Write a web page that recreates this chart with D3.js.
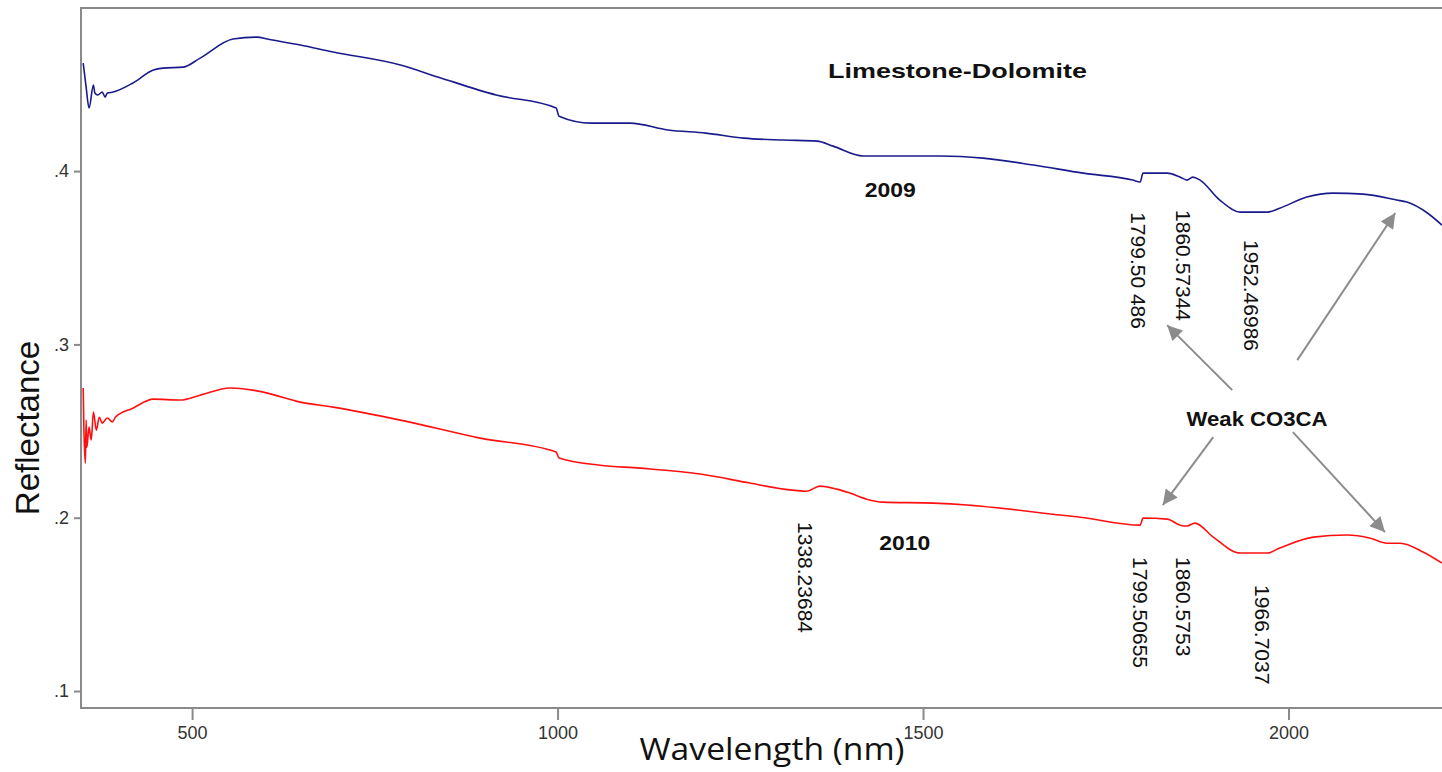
<!DOCTYPE html>
<html>
<head>
<meta charset="utf-8">
<script src="https://cdn.jsdelivr.net/npm/d3@7"></script>
<style>
  body { margin: 0; background: #fff; }
  text { font-family: "Liberation Sans", Arial, sans-serif; }
</style>
</head>
<body>
<div id="chart"></div>
<script>
// spectra
const wave2009 = [351, 355, 359, 365, 367, 371, 377, 381, 384, 392, 419, 447, 460, 488, 511, 556, 589, 603, 648, 693,
  785, 837, 916, 998, 1002, 1046, 1099, 1151, 1203, 1255, 1309, 1355, 1377, 1418, 1469, 1523, 1582, 1651, 1719,
  1787, 1797, 1801, 1834, 1852, 1861, 1869, 1879, 1906, 1934, 1971, 1988, 2025, 2061, 2102, 2148, 2162, 2190, 2210];
const refl2009 = [0.4623, 0.4485, 0.4364, 0.4496, 0.4450, 0.4439, 0.4456, 0.4427, 0.4450, 0.4456, 0.4508, 0.4583,
  0.4594, 0.4600, 0.4652, 0.4762, 0.4773, 0.4762, 0.4727, 0.4687, 0.4612, 0.4542, 0.4439, 0.4364, 0.4317, 0.4277,
  0.4277, 0.4237, 0.4219, 0.4190, 0.4179, 0.4173, 0.4144, 0.4087, 0.4087, 0.4087, 0.4075, 0.4035, 0.3988, 0.3948,
  0.3937, 0.3988, 0.3988, 0.3965, 0.3948, 0.3965, 0.3948, 0.3833, 0.3763, 0.3763, 0.3786, 0.3850, 0.3873, 0.3867,
  0.3833, 0.3821, 0.3758, 0.3688];

const wave2010 = [351, 352, 354, 355, 356, 359, 362, 365, 369, 373, 377, 384, 391, 395, 419, 447, 484, 511, 552, 583,
  603, 648, 693, 785, 894, 998, 1002, 1058, 1113, 1195, 1263, 1309, 1341, 1359, 1382, 1400, 1423, 1445, 1514, 1560,
  1629, 1674, 1715, 1797, 1801, 1834, 1852, 1861, 1872, 1897, 1934, 1971, 1988, 2034, 2080, 2112, 2135, 2153, 2184, 2210];
const refl2010 = [0.2748, 0.2505, 0.2315, 0.2563, 0.2407, 0.2523, 0.2448, 0.2609, 0.2505, 0.2580, 0.2546, 0.2575,
  0.2552, 0.2580, 0.2632, 0.2684, 0.2679, 0.2707, 0.2748, 0.2736, 0.2719, 0.2667, 0.2638, 0.2563, 0.2459, 0.2379,
  0.2344, 0.2303, 0.2286, 0.2252, 0.2200, 0.2165, 0.2153, 0.2182, 0.2165, 0.2142, 0.2107, 0.2090, 0.2084, 0.2073,
  0.2044, 0.2021, 0.2003, 0.1957, 0.1998, 0.1992, 0.1957, 0.1952, 0.1969, 0.1888, 0.1796, 0.1796, 0.1825, 0.1888,
  0.1900, 0.1882, 0.1853, 0.1853, 0.1802, 0.1738];

const xTicks = [500, 1000, 1500, 2000];
const yTicks = [0.1, 0.2, 0.3, 0.4];

// absorption feature labels (text, wavelength, top of label in reflectance)
const peakText = ["1799.50 486", "1860.57344", "1952.46986", "1338.23684", "1799.50655", "1860.5753", "1966.7037"];
const peakWave = [1795, 1857, 1950, 1339, 1797, 1857, 1965];
const peakTop = [0.3763, 0.3775, 0.3602, 0.1975, 0.1773, 0.1773, 0.1611];

// arrows from "Weak CO3CA" [fromWave, fromRefl, toWave, toRefl]
const arrows = [
  [1923, 0.2736, 1834, 0.3111],
  [2012, 0.2909, 2146, 0.3758],
  [1897, 0.2465, 1828, 0.2073],
  [2006, 0.2494, 2132, 0.1917]
];

const width = 1442;
const height = 772;
const mLeft = 81, mTop = 8, mBottom = 708, mRight = 1442;

const svg = d3.select("#chart")
  .append("svg")
  .attr("width", width)
  .attr("height", height);

const x = d3.scaleLinear().domain([348, 2210]).range([mLeft, mRight]);
const y = d3.scaleLinear().domain([0.0902, 0.4941]).range([mBottom, mTop]);

svg.append("clipPath").attr("id", "clip")
  .append("rect")
  .attr("x", mLeft).attr("y", mTop)
  .attr("width", mRight - mLeft).attr("height", mBottom - mTop);

// frame (right side is cut off in the original)
svg.append("path")
  .attr("d", `M${mRight},${mTop}H${mLeft}V${mBottom}H${mRight}`)
  .attr("fill", "none")
  .attr("stroke", "#8a8a8a")
  .attr("stroke-width", 2);

// axes
const xAxis = svg.append("g")
  .attr("transform", `translate(0,${mBottom})`)
  .call(d3.axisBottom(x).tickValues(xTicks).tickSize(12).tickFormat(d3.format("d")));
xAxis.select(".domain").remove();
xAxis.selectAll("line").attr("stroke", "#8a8a8a").attr("stroke-width", 2);
xAxis.selectAll("text").attr("font-size", 18).attr("fill", "#333").attr("dy", "0.9em");

const yAxis = svg.append("g")
  .attr("transform", `translate(${mLeft},0)`)
  .call(d3.axisLeft(y).tickValues(yTicks).tickSize(7)
    .tickFormat(d => d3.format(".1f")(d).replace(/^0/, "")));
yAxis.select(".domain").remove();
yAxis.selectAll("line").attr("stroke", "#8a8a8a").attr("stroke-width", 2);
yAxis.selectAll("text").attr("font-size", 18).attr("fill", "#333").attr("x", -12);

// axis titles
svg.append("text")
  .attr("transform", `translate(39,${(mTop + mBottom) / 2 + 70}) rotate(-90)`)
  .attr("text-anchor", "middle")
  .attr("font-size", 33)
  .attr("fill", "#111")
  .text("Reflectance");

svg.append("text")
  .attr("x", 772)
  .attr("y", 760)
  .attr("text-anchor", "middle")
  .attr("font-size", 31)
  .attr("textLength", 265)
  .attr("lengthAdjust", "spacingAndGlyphs")
  .style("font-family", "'Open Sans', sans-serif")
  .attr("fill", "#111")
  .text("Wavelength (nm)");

// spectra
const line = d3.line().x(d => x(d[0])).y(d => y(d[1])).curve(d3.curveMonotoneX);
const plot = svg.append("g").attr("clip-path", "url(#clip)");

plot.append("path")
  .datum(d3.zip(wave2009, refl2009))
  .attr("d", line)
  .attr("fill", "none")
  .attr("stroke", "#1a1a8c")
  .attr("stroke-width", 1.6);

plot.append("path")
  .datum(d3.zip(wave2010, refl2010))
  .attr("d", line)
  .attr("fill", "none")
  .attr("stroke", "#ff1010")
  .attr("stroke-width", 1.6);

// labels
const bold = (txt, wx, ry, anchor, len) => svg.append("text")
  .attr("x", x(wx)).attr("y", y(ry))
  .attr("text-anchor", anchor)
  .attr("dominant-baseline", "central")
  .attr("font-size", 21)
  .attr("font-weight", "bold")
  .attr("fill", "#111")
  .attr("textLength", len)
  .attr("lengthAdjust", "spacingAndGlyphs")
  .text(txt);

bold("Limestone-Dolomite", 1370, 0.4583, "start", 259);
bold("2009", 1455, 0.3896, "middle", 51);
bold("2010", 1475, 0.1859, "middle", 51);
bold("Weak CO3CA", 1957, 0.2575, "middle", 141);

svg.selectAll(".peak")
  .data(peakText)
  .enter()
  .append("text")
  .attr("class", "peak")
  .attr("transform", (d, i) => `translate(${x(peakWave[i])},${y(peakTop[i])}) rotate(90)`)
  .attr("dominant-baseline", "central")
  .attr("font-size", 21)
  .attr("fill", "#111")
  .text(d => d);

// arrows
svg.append("defs").append("marker")
  .attr("id", "head")
  .attr("viewBox", "0 0 10 10")
  .attr("refX", 10).attr("refY", 5)
  .attr("markerWidth", 17).attr("markerHeight", 15)
  .attr("markerUnits", "userSpaceOnUse")
  .attr("orient", "auto")
  .append("path")
  .attr("d", "M0,0L10,5L0,10Z")
  .attr("fill", "#8c8c8c");

svg.selectAll(".arrow")
  .data(arrows)
  .enter()
  .append("line")
  .attr("class", "arrow")
  .attr("x1", d => x(d[0])).attr("y1", d => y(d[1]))
  .attr("x2", d => x(d[2])).attr("y2", d => y(d[3]))
  .attr("stroke", "#8c8c8c")
  .attr("stroke-width", 2)
  .attr("marker-end", "url(#head)");
</script>
</body>
</html>
